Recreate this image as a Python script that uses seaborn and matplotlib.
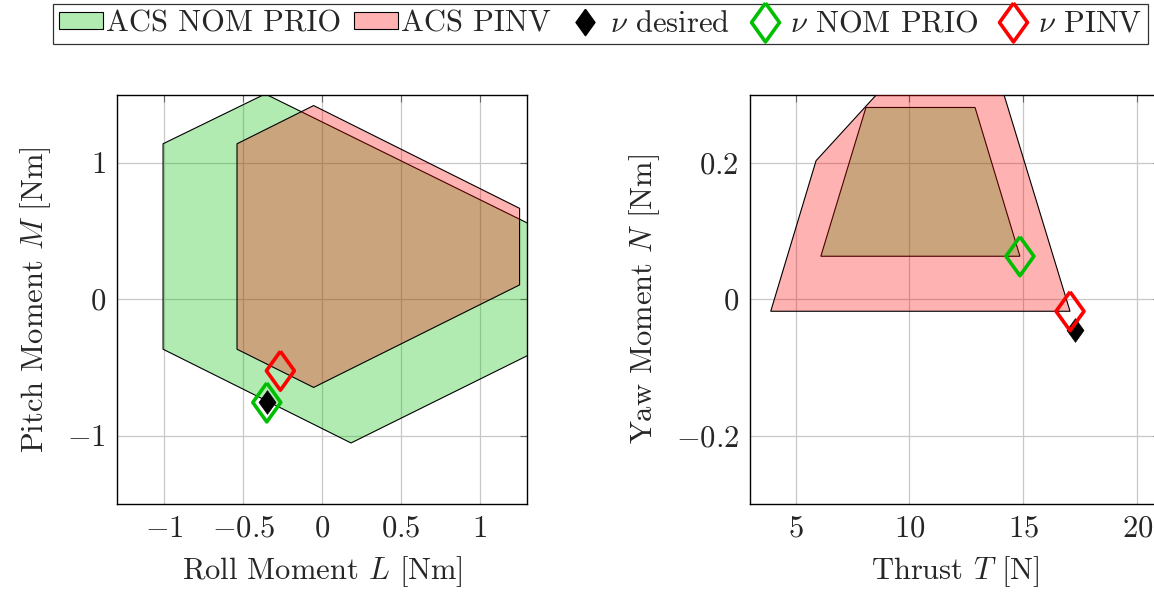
import numpy as np
import pandas as pd
import matplotlib
matplotlib.use("Agg")
import matplotlib.pyplot as plt
import seaborn as sns
from matplotlib.patches import Patch
from matplotlib.lines import Line2D
from matplotlib.ticker import FuncFormatter

# --- data: attainable control sets (polygon vertices) and moment points ---
acs_nom_L = [-1.008, -1.008, -0.36, 1.6, 1.6, 0.184]
acs_nom_M = [-0.366, 1.139, 1.504, 0.389, -0.243, -1.053]
acs_pinv_L = [-0.539, -0.539, -0.053, 1.253, 1.253, -0.053]
acs_pinv_M = [-0.366, 1.139, 1.419, 0.666, 0.105, -0.646]

acs_nom_T = [6.11, 8.09, 12.88, 14.85]
acs_nom_N = [0.063, 0.281, 0.281, 0.063]
acs_pinv_T = [3.91, 5.90, 9.93, 13.69, 17.05]
acs_pinv_N = [-0.0176, 0.203, 0.35, 0.35, -0.0176]

nu_desired_LM = [-0.35, -0.756]
nu_nom_LM = [-0.35, -0.756]
nu_pinv_LM = [-0.264, -0.524]
nu_desired_TN = [17.27, -0.0445]
nu_nom_TN = [14.85, 0.063]
nu_pinv_TN = [17.05, -0.0176]

GREEN = (0, 0.75, 0)
RED = (1, 0, 0)
FS = 22

sns.set_style("whitegrid")
plt.rcParams['font.family'] = 'serif'
plt.rcParams['font.serif'] = ['cmr10']
plt.rcParams['mathtext.fontset'] = 'cm'
plt.rcParams['axes.formatter.use_mathtext'] = True
plt.rcParams['axes.unicode_minus'] = True

diamond = [(0, 1), (0.72, 0), (0, -1), (-0.72, 0), (0, 1)]

fig = plt.figure(figsize=(11.54, 5.95), dpi=100)
ax1 = fig.add_axes([117 / 1154, 1 - 504 / 595, 410 / 1154, 409.5 / 595])
ax2 = fig.add_axes([750 / 1154, 1 - 504 / 595, 410 / 1154, 409.5 / 595])


def fmt(v, pos):
    s = f'{v:g}'
    if s == '-0':
        s = '0'
    return f'${s}$'


def draw(ax, nom_x, nom_y, pinv_x, pinv_y, des, nom, pinv):
    ax.fill(nom_x, nom_y, facecolor=GREEN + (0.3,), edgecolor='black', lw=0.8, zorder=2)
    ax.fill(pinv_x, pinv_y, facecolor=RED + (0.3,), edgecolor='black', lw=0.8, zorder=3)
    pts = pd.DataFrame({'x': [des[0]], 'y': [des[1]]})
    sns.scatterplot(data=pts, x='x', y='y', ax=ax, marker=diamond, s=17 ** 2,
                    color='black', edgecolor='black', linewidth=0.5, zorder=4)
    pts = pd.DataFrame({'x': [nom[0]], 'y': [nom[1]]})
    sns.scatterplot(data=pts, x='x', y='y', ax=ax, marker=diamond, s=28 ** 2,
                    color='none', edgecolor=GREEN, linewidth=2.6, zorder=5)
    pts = pd.DataFrame({'x': [pinv[0]], 'y': [pinv[1]]})
    sns.scatterplot(data=pts, x='x', y='y', ax=ax, marker=diamond, s=28 ** 2,
                    color='none', edgecolor=RED, linewidth=2.6, zorder=6)
    ax.set_axisbelow(True)
    ax.grid(True, color='#c8c8c8', lw=0.9)
    for sp in ax.spines.values():
        sp.set_color('black')
        sp.set_linewidth(1.0)
    ax.tick_params(direction='in', top=True, right=True, length=5, width=0.8,
                   color='#666666', labelsize=FS, pad=8)
    ax.xaxis.set_major_formatter(FuncFormatter(fmt))
    ax.yaxis.set_major_formatter(FuncFormatter(fmt))


draw(ax1, acs_nom_L, acs_nom_M, acs_pinv_L, acs_pinv_M,
     nu_desired_LM, nu_nom_LM, nu_pinv_LM)
ax1.set_xlim(-1.3, 1.3)
ax1.set_ylim(-1.5, 1.5)
ax1.set_xticks([-1, -0.5, 0, 0.5, 1])
ax1.set_yticks([-1, 0, 1])
ax1.set_xlabel('Roll Moment $L$ [Nm]', fontsize=FS, labelpad=8)
ax1.set_ylabel('Pitch Moment $M$ [Nm]', fontsize=FS, labelpad=10)

draw(ax2, acs_nom_T, acs_nom_N, acs_pinv_T, acs_pinv_N,
     nu_desired_TN, nu_nom_TN, nu_pinv_TN)
ax2.set_xlim(3, 21)
ax2.set_ylim(-0.3, 0.3)
ax2.set_xticks([5, 10, 15, 20])
ax2.set_yticks([-0.2, 0, 0.2])
ax2.set_xlabel('Thrust $T$ [N]', fontsize=FS, labelpad=8)
ax2.set_ylabel('Yaw Moment $N$ [Nm]', fontsize=FS, labelpad=10)

handles = [
    Patch(facecolor=GREEN + (0.3,), edgecolor='black', lw=0.8),
    Patch(facecolor=RED + (0.3,), edgecolor='black', lw=0.8),
    Line2D([], [], ls='none', marker=diamond, markersize=19, color='black'),
    Line2D([], [], ls='none', marker=diamond, markersize=28, mfc='none', mec=GREEN, mew=2.6),
    Line2D([], [], ls='none', marker=diamond, markersize=28, mfc='none', mec=RED, mew=2.6),
]
labels = ['ACS NOM PRIO', 'ACS PINV', r'$\nu$ desired', r'$\nu$ NOM PRIO', r'$\nu$ PINV']
leg = fig.legend(handles, labels, loc='upper center', bbox_to_anchor=(0.5205, 1 - 4 / 595),
                 ncol=5, fontsize=FS, frameon=True, fancybox=False, edgecolor='black',
                 handlelength=1.45, handleheight=0.5, handletextpad=0.1,
                 columnspacing=0.4, borderpad=0.2, borderaxespad=0)
leg.get_frame().set_linewidth(0.9)

fig.savefig('out.png', dpi=100)
